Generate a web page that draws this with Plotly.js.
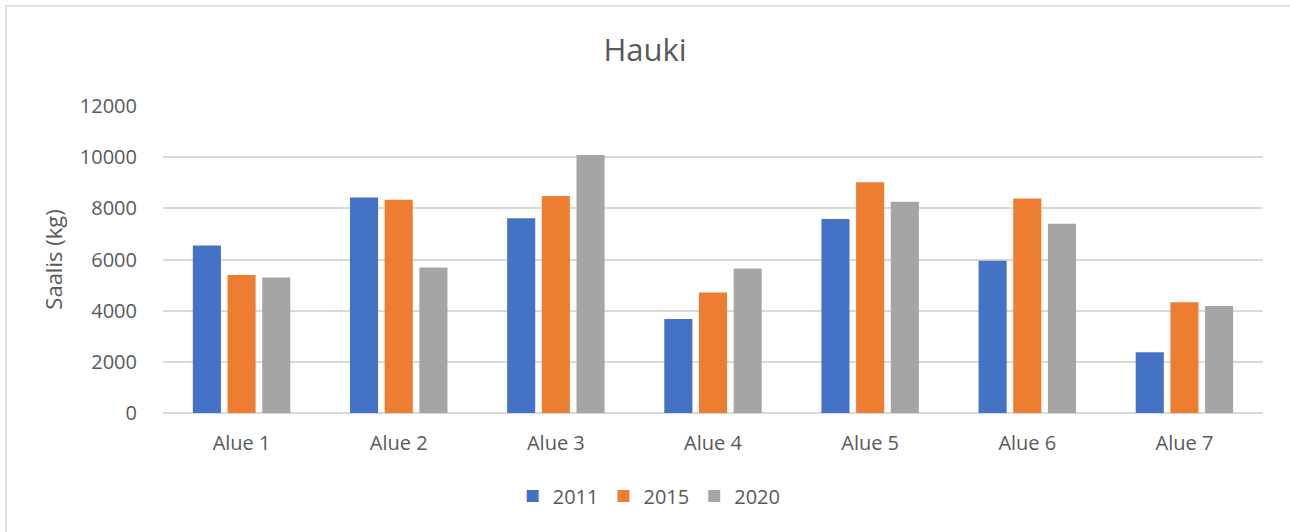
<!DOCTYPE html>
<html>
<head>
<meta charset="utf-8">
<script src="https://cdn.plot.ly/plotly-3.0.1.min.js"></script>
<style>
  html, body { margin: 0; padding: 0; background: #ffffff; }
  #chart { width: 1290px; height: 532px; }
</style>
</head>
<body>
<div id="chart"></div>
<script>
const categories = ["Alue 1", "Alue 2", "Alue 3", "Alue 4", "Alue 5", "Alue 6", "Alue 7"];
const seriesNames = ["2011", "2015", "2020"];
const values2011 = [6550, 8420, 7610, 3670, 7580, 5950, 2370];
const values2015 = [5390, 8340, 8480, 4710, 9020, 8380, 4330];
const values2020 = [5300, 5690, 10080, 5650, 8260, 7400, 4180];
const seriesColors = ["#4472C4", "#ED7D31", "#A5A5A5"];
const yTicks = [0, 2000, 4000, 6000, 8000, 10000, 12000];

const seriesValues = [values2011, values2015, values2020];
const textColor = "#595959";
const fontFamily = "'Open Sans', 'Noto Sans', sans-serif";

const traces = seriesNames.map((name, i) => ({
  type: "bar",
  name: name,
  x: categories,
  y: seriesValues[i],
  marker: { color: seriesColors[i] },
  hoverinfo: "x+y+name"
}));

const layout = {
  width: 1290,
  height: 532,
  margin: { l: 163, r: 27, t: 106, b: 119 },
  paper_bgcolor: "#ffffff",
  plot_bgcolor: "#ffffff",
  font: { family: fontFamily, color: textColor, size: 20 },
  title: {
    text: "Hauki",
    font: { family: fontFamily, size: 31, color: textColor },
    x: 0.5, xanchor: "center",
    y: 1 - 50 / 532, yanchor: "middle"
  },
  barmode: "group",
  bargap: 0.338,
  bargroupgap: 0.19,
  xaxis: {
    type: "category",
    showgrid: false,
    showline: false,
    zeroline: false,
    ticks: "outside",
    ticklen: 12,
    tickcolor: "rgba(0,0,0,0)",
    tickfont: { family: fontFamily, size: 20, color: textColor }
  },
  yaxis: {
    range: [0, 12000],
    tickvals: yTicks,
    ticktext: yTicks.map(String),
    showgrid: true,
    gridcolor: "#d9d9d9",
    gridwidth: 1.5,
    zeroline: true,
    zerolinecolor: "#d9d9d9",
    zerolinewidth: 1.5,
    showline: false,
    ticks: "outside",
    ticklen: 21,
    tickcolor: "rgba(0,0,0,0)",
    tickfont: { family: fontFamily, size: 20, color: textColor },
    title: {
      text: "Saalis (kg)",
      font: { family: fontFamily, size: 22, color: textColor },
      standoff: 11
    },
    automargin: false
  },
  legend: {
    orientation: "h",
    x: 0.442, xanchor: "center",
    y: (413 - 496) / 307, yanchor: "middle",
    font: { family: fontFamily, size: 20, color: textColor },
    itemwidth: 30,
    traceorder: "normal"
  },
  shapes: [{
    type: "rect",
    xref: "paper", yref: "paper",
    x0: (6 - 163) / 1100, x1: 1.2,
    y0: -0.6, y1: (413 - 6) / 307,
    line: { color: "#d9d9d9", width: 1.5 },
    fillcolor: "rgba(0,0,0,0)",
    layer: "below"
  }],
  showlegend: true
};

Plotly.newPlot("chart", traces, layout, { displayModeBar: false, staticPlot: false });
</script>
</body>
</html>
